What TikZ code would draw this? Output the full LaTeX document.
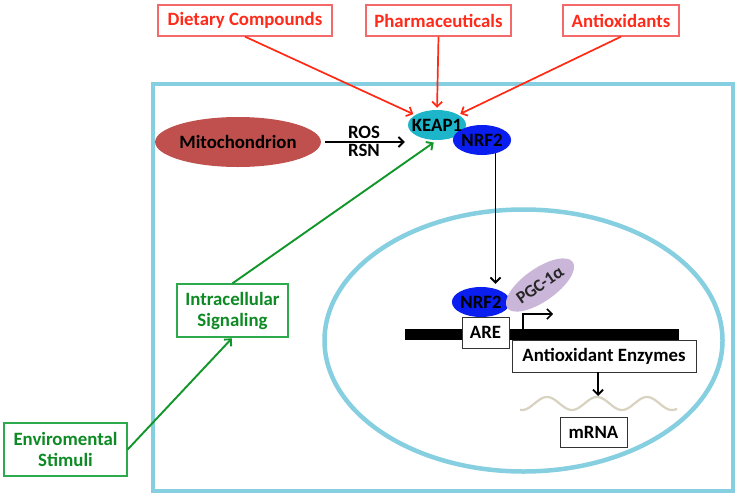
\documentclass[tikz,border=0pt]{standalone}
\usepackage{fontspec}
\setmainfont{Carlito}
\usetikzlibrary{shapes.geometric,arrows.meta,calc}
\definecolor{cellblue}{HTML}{86CFE0}
\definecolor{redtxt}{HTML}{FF2A1A}
\definecolor{redline}{HTML}{F46A6A}
\definecolor{redarrow}{HTML}{FF2A14}
\definecolor{grntxt}{HTML}{0E8A24}
\definecolor{grnline}{HTML}{2EAA4E}
\definecolor{grnarrow}{HTML}{12962A}
\definecolor{keapc}{HTML}{1CB5C9}
\definecolor{nrfc}{HTML}{0A1EF0}
\definecolor{mitoc}{HTML}{C0504D}
\definecolor{pgcc}{HTML}{C9B6D9}
\definecolor{mrnac}{HTML}{D8D3C0}
\begin{document}
\begin{tikzpicture}[x=1pt,y=-1pt,
  every node/.style={font=\fontsize{18.8}{21}\selectfont\bfseries, inner sep=0pt},
  redbox/.style={draw=redline, line width=1.3pt, fill=white, text=redtxt, minimum height=31pt},
  grnbox/.style={draw=grnline, line width=1.3pt, fill=white, text=grntxt, align=center},
  blkbox/.style={draw=black!80, line width=0.9pt, fill=white},
  blob/.style={ellipse, minimum width=58pt, minimum height=30pt},
  redarr/.style={draw=redarrow, line width=1.7pt, -{Straight Barb[length=5pt,width=10pt]}},
  grnarr/.style={draw=grnarrow, line width=1.9pt, -{Straight Barb[length=5pt,width=10pt]}},
  blkarr/.style={draw=black, line width=1.9pt, -{Straight Barb[length=5pt,width=10pt]}}
]
\useasboundingbox (0,0) rectangle (741,501);
\fill[white] (0,0) rectangle (741,501);

% cell and nucleus
\draw[cellblue, line width=4.5pt] (153,84) rectangle (733,491);
\draw[cellblue, line width=4.5pt] (523.5,340.5) ellipse [x radius=199, y radius=131];

% top boxes
\node[redbox, minimum width=174pt] (diet) at (245,20.5) {Dietary Compounds};
\node[redbox, minimum width=145pt] (pharm) at (438.5,20.5) {Pharmaceuticals};
\node[redbox, minimum width=116pt] (anti) at (621,20.5) {Antioxidants};

% cytoplasm
\node[ellipse, fill=mitoc, minimum width=160pt, minimum height=50pt] (mito) at (238,142) {Mitochondrion};
\node[blob, fill=keapc] (keap) at (437,125) {};
\node[blob, fill=nrfc] (nrf) at (482,140) {NRF2};
\node (keaptxt) at (keap) {KEAP1};
\node (ros) at (364,132) {ROS};
\node (rsn) at (364,150) {RSN};

\node[grnbox, minimum width=111pt, minimum height=53pt] (intra) at (232.5,310.5) {Intracellular\\Signaling};
\node[grnbox, minimum width=123pt, minimum height=53pt] (env) at (65.5,449.5) {Enviromental\\Stimuli};

% nucleus content
\node[fill=black, minimum width=274pt, minimum height=11pt] (dna) at (542,334.5) {};
\node[blkbox, minimum width=47pt, minimum height=31pt] (are) at (485.5,332.5) {ARE};
\node[blkbox, minimum width=184pt, minimum height=32pt] (ae) at (604,356) {Antioxidant Enzymes};
\node[ellipse, fill=nrfc, minimum width=54pt, minimum height=30pt] (nrfn) at (481,302) {NRF2};
\node[ellipse, fill=pgcc, text=black!85, minimum width=80pt, minimum height=33pt, rotate=35,
      font=\fontsize{17.5}{19}\selectfont\bfseries] (pgc) at (540,285) {PGC-1α};
\draw[mrnac, line width=2.2pt, domain=520:677, samples=90, smooth]
  plot (\x, {403.5-6.5*cos(7.2*(\x-547))});
\coordinate (wavetop) at (598,396);
\node[blkbox, minimum width=67pt, minimum height=30pt] (mrna) at (593.5,432) {mRNA};

% connectors
\draw[redarr, shorten >=2pt] (diet.south) -- (keap);
\draw[redarr, shorten >=2pt] (pharm.south) -- (keap.north);
\draw[redarr, shorten >=2pt] (anti.south) -- (keap);
\draw[blkarr, shorten <=4pt, shorten >=3pt] (mito.east) -- (mito.east -| keap.west);
\draw[grnarr, shorten >=4pt] (intra.north) -- (keap.south);
\draw[grnarr, shorten >=1pt] (env.east) -- (intra.south);
\draw[blkarr, shorten >=3pt] (nrf.-45) -- (nrf.-45 |- nrfn.north);
\coordinate (prom) at (523,329);
\draw[blkarr, line width=1.5pt] (prom) -- ++(0,-15) -- ++(30,0);
\draw[blkarr] ([xshift=-6pt]ae.south) -- (wavetop);
\end{tikzpicture}
\end{document}
